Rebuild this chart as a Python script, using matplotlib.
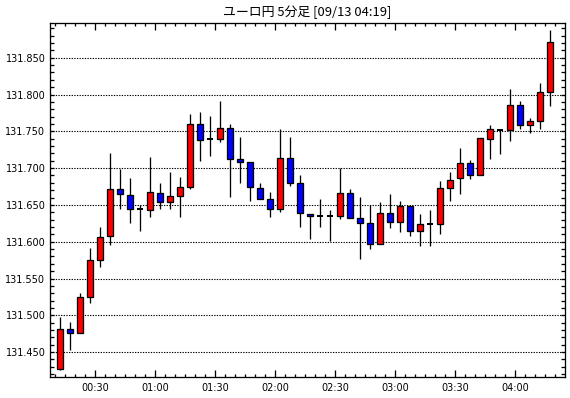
import matplotlib
matplotlib.use("Agg")
import matplotlib.pyplot as plt
from matplotlib.ticker import MultipleLocator, FixedLocator, FuncFormatter

title = "ユーロ円 5分足 [09/13 04:19]"

times = [
    "00:10", "00:15", "00:20", "00:25", "00:30", "00:35", "00:40", "00:45", "00:50", "00:55",
    "01:00", "01:05", "01:10", "01:15", "01:20", "01:25", "01:30", "01:35", "01:40", "01:45",
    "01:50", "01:55", "02:00", "02:05", "02:10", "02:15", "02:20", "02:25", "02:30", "02:35",
    "02:40", "02:45", "02:50", "02:55", "03:00", "03:05", "03:10", "03:15", "03:20", "03:25",
    "03:30", "03:35", "03:40", "03:45", "03:50", "03:55", "04:00", "04:05", "04:10", "04:15",
]
opens = [
    131.427, 131.481, 131.476, 131.525, 131.575, 131.608, 131.671, 131.664, 131.644, 131.643,
    131.666, 131.654, 131.662, 131.674, 131.760, 131.739, 131.739, 131.755, 131.713, 131.709,
    131.673, 131.658, 131.644, 131.714, 131.680, 131.638, 131.635, 131.635, 131.635, 131.666,
    131.632, 131.625, 131.597, 131.639, 131.627, 131.649, 131.614, 131.624, 131.624, 131.673,
    131.686, 131.707, 131.690, 131.740, 131.752, 131.752, 131.786, 131.759, 131.764, 131.804,
]
highs = [
    131.498, 131.491, 131.530, 131.592, 131.620, 131.721, 131.699, 131.686, 131.650, 131.715,
    131.680, 131.695, 131.688, 131.774, 131.776, 131.771, 131.791, 131.760, 131.742, 131.709,
    131.680, 131.668, 131.753, 131.742, 131.691, 131.638, 131.658, 131.643, 131.700, 131.672,
    131.661, 131.650, 131.654, 131.665, 131.656, 131.649, 131.637, 131.643, 131.683, 131.695,
    131.728, 131.711, 131.741, 131.758, 131.753, 131.808, 131.791, 131.768, 131.815, 131.888,
]
lows = [
    131.426, 131.453, 131.476, 131.517, 131.565, 131.596, 131.644, 131.626, 131.615, 131.634,
    131.645, 131.645, 131.634, 131.671, 131.710, 131.716, 131.736, 131.661, 131.680, 131.656,
    131.658, 131.634, 131.641, 131.676, 131.620, 131.604, 131.620, 131.601, 131.631, 131.632,
    131.577, 131.590, 131.597, 131.619, 131.613, 131.608, 131.594, 131.594, 131.610, 131.656,
    131.665, 131.685, 131.690, 131.712, 131.719, 131.737, 131.753, 131.748, 131.753, 131.785,
]
closes = [
    131.481, 131.476, 131.525, 131.575, 131.607, 131.671, 131.665, 131.644, 131.644, 131.667,
    131.654, 131.662, 131.674, 131.760, 131.738, 131.739, 131.755, 131.713, 131.709, 131.675,
    131.658, 131.644, 131.714, 131.680, 131.639, 131.635, 131.635, 131.635, 131.666, 131.632,
    131.625, 131.597, 131.639, 131.627, 131.649, 131.614, 131.624, 131.624, 131.673, 131.684,
    131.707, 131.691, 131.741, 131.753, 131.752, 131.786, 131.759, 131.764, 131.804, 131.872,
]
grid_levels = [131.45, 131.50, 131.55, 131.60, 131.65, 131.70, 131.75, 131.80, 131.85]


def to_minutes(s):
    h, m = s.split(":")
    return int(h) * 60 + int(m)


def fmt_time(v, pos):
    v = int(round(v))
    return f"{v // 60:02d}:{v % 60:02d}"


def main():
    px = 0.72  # one pixel at dpi 100, in points
    fig = plt.figure(figsize=(5.7, 3.98), dpi=100)
    ax = fig.add_axes([49.5 / 570, 20.7 / 398, 515 / 570, 354.6 / 398])

    # candles are centred on the middle of their 5-minute bar
    x = [to_minutes(t) + 2.5 for t in times]
    ax.vlines(x, lows, highs, color="black", lw=1.3 * px, zorder=2)
    for xi, o, c in zip(x, opens, closes):
        color = "#ff0000" if c > o else "#0000ff"
        if abs(c - o) < 1e-9:
            ax.hlines(o, xi - 1.5, xi + 1.5, color="black", lw=2 * px, zorder=3)
        else:
            ax.bar(xi, c - o, bottom=o, width=2.6, color=color,
                   edgecolor="black", lw=1.3 * px, zorder=3)

    ax.set_xlim(7.25, 264.75)
    ax.set_ylim(131.4158, 131.8976)

    for v in grid_levels:
        ax.axhline(v, color="black", lw=1.1 * px, ls=(0, (1.2, 1.2)), zorder=1)

    ax.yaxis.set_major_locator(MultipleLocator(0.05))
    ax.yaxis.set_minor_locator(MultipleLocator(0.01))
    ax.yaxis.set_major_formatter(FuncFormatter(lambda v, p: f"{v:.3f}"))
    ax.xaxis.set_major_locator(FixedLocator(range(30, 265, 30)))
    ax.xaxis.set_minor_locator(MultipleLocator(5))
    ax.xaxis.set_major_formatter(FuncFormatter(fmt_time))

    ax.tick_params(axis="both", which="both", direction="in", color="black",
                   labelsize=7, width=1.3 * px, top=True, right=True)
    ax.tick_params(axis="y", which="both", length=3, pad=3)
    ax.tick_params(axis="x", which="major", length=5, pad=4)
    ax.tick_params(axis="x", which="minor", length=2.5)
    for sp in ax.spines.values():
        sp.set_linewidth(1.3 * px)

    fig.text(0.5386, 0.968, title, ha="center", va="center", fontsize=9.3,
             family=["Noto Sans CJK JP", "DejaVu Sans"])
    fig.savefig("out.png", dpi=100)


if __name__ == "__main__":
    main()
